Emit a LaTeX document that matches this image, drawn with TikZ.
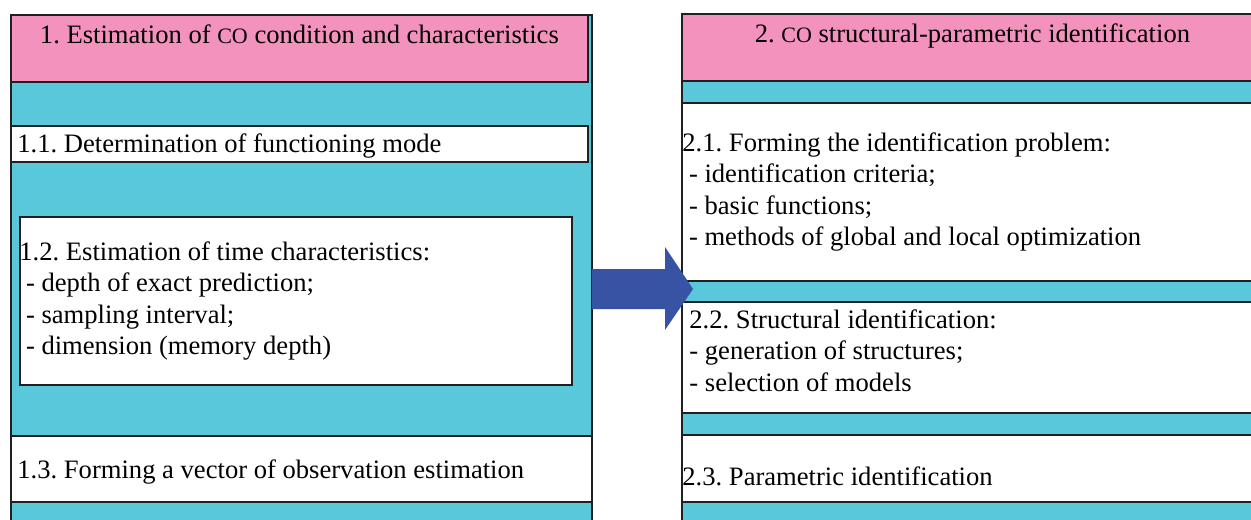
\documentclass[tikz,border=0pt]{standalone}
\usepackage{fontspec}
\setmainfont{Liberation Serif}
\usetikzlibrary{positioning}

\definecolor{headpink}{RGB}{243,147,189}
\definecolor{panelcyan}{RGB}{88,200,218}
\definecolor{arrowblue}{RGB}{56,83,164}
\definecolor{edgegray}{RGB}{35,31,32}

\newcommand{\co}{{\fontsize{11}{13}\selectfont CO}}
\newcommand{\lsp}{\hspace*{.25em}}

\tikzset{
  boxline/.style={draw=edgegray,line width=0.9pt,anchor=north west,inner sep=0pt},
  panel/.style={boxline,fill=panelcyan},
  head/.style={boxline,fill=headpink},
  item/.style={boxline,fill=white},
  txt/.style={font=\rmfamily\fontsize{13.3}{15.75}\selectfont,inner sep=0pt,align=left,anchor=west},
  headtxt/.style={font=\rmfamily\fontsize{13.3}{15.75}\selectfont,inner sep=0pt,anchor=base}
}

\begin{document}
\frenchspacing
\begin{tikzpicture}[x=0.5pt,y=-0.5pt]
\clip (0,0) rectangle (1251,519);

% left block
\path (10,14)  node[panel,minimum width=290.5pt,minimum height=258pt] (P1) {};
\path (10,14)  node[head,minimum width=288.5pt,minimum height=33.5pt] (H1) {};
\path (10,125) node[item,minimum width=288.5pt,minimum height=18pt] (B11) {};
\path (19,216) node[item,minimum width=276pt,minimum height=84pt] (B12) {};
\path (10,435) node[item,minimum width=290.5pt,minimum height=33pt] (B13) {};

\node[headtxt] (T1) at ([yshift=-15pt]H1.north) {1. Estimation of \co{} condition and characteristics};
\node[txt] (T11) at ([xshift=3.5pt,yshift=-0.9pt]B11.west) {1.1. Determination of functioning mode};
\node[txt] (T12) at (B12.west) {1.2. Estimation of time characteristics:\\
  \lsp- depth of exact prediction;\\
  \lsp- sampling interval;\\
  \lsp- dimension (memory depth)};
\node[txt] (T13) at ([xshift=3.5pt,yshift=-1.4pt]B13.west) {1.3. Forming a vector of observation estimation};

% right block
\path (681,13)  node[panel,minimum width=290.5pt,minimum height=258pt] (P2) {};
\path (681,13)  node[head,minimum width=290.5pt,minimum height=33.5pt] (H2) {};
\path (681,102) node[item,minimum width=290.5pt,minimum height=89pt] (B21) {};
\path (681,301) node[item,minimum width=290.5pt,minimum height=55.5pt] (B22) {};
\path (681,434) node[item,minimum width=290.5pt,minimum height=33.5pt] (B23) {};

\node[headtxt] (T2) at ([yshift=-15pt]H2.north) {2. \co{} structural-parametric identification};
\node[txt] (T21) at ([xshift=0.5pt]B21.west) {2.1. Forming the identification problem:\\
  \lsp- identification criteria;\\
  \lsp- basic functions;\\
  \lsp- methods of global and local optimization};
\node[txt] (T22) at ([xshift=4pt,yshift=3.5pt]B22.west) {2.2. Structural identification:\\
  - generation of structures;\\
  - selection of models};
\node[txt] (T23) at ([xshift=0.5pt,yshift=-4pt]B23.west) {2.3. Parametric identification};

% block arrow
\fill[arrowblue] (592,269) -- (665,269) -- (665,247) -- (693,289)
  -- (665,330) -- (665,309) -- (592,309) -- cycle;
\end{tikzpicture}
\end{document}
